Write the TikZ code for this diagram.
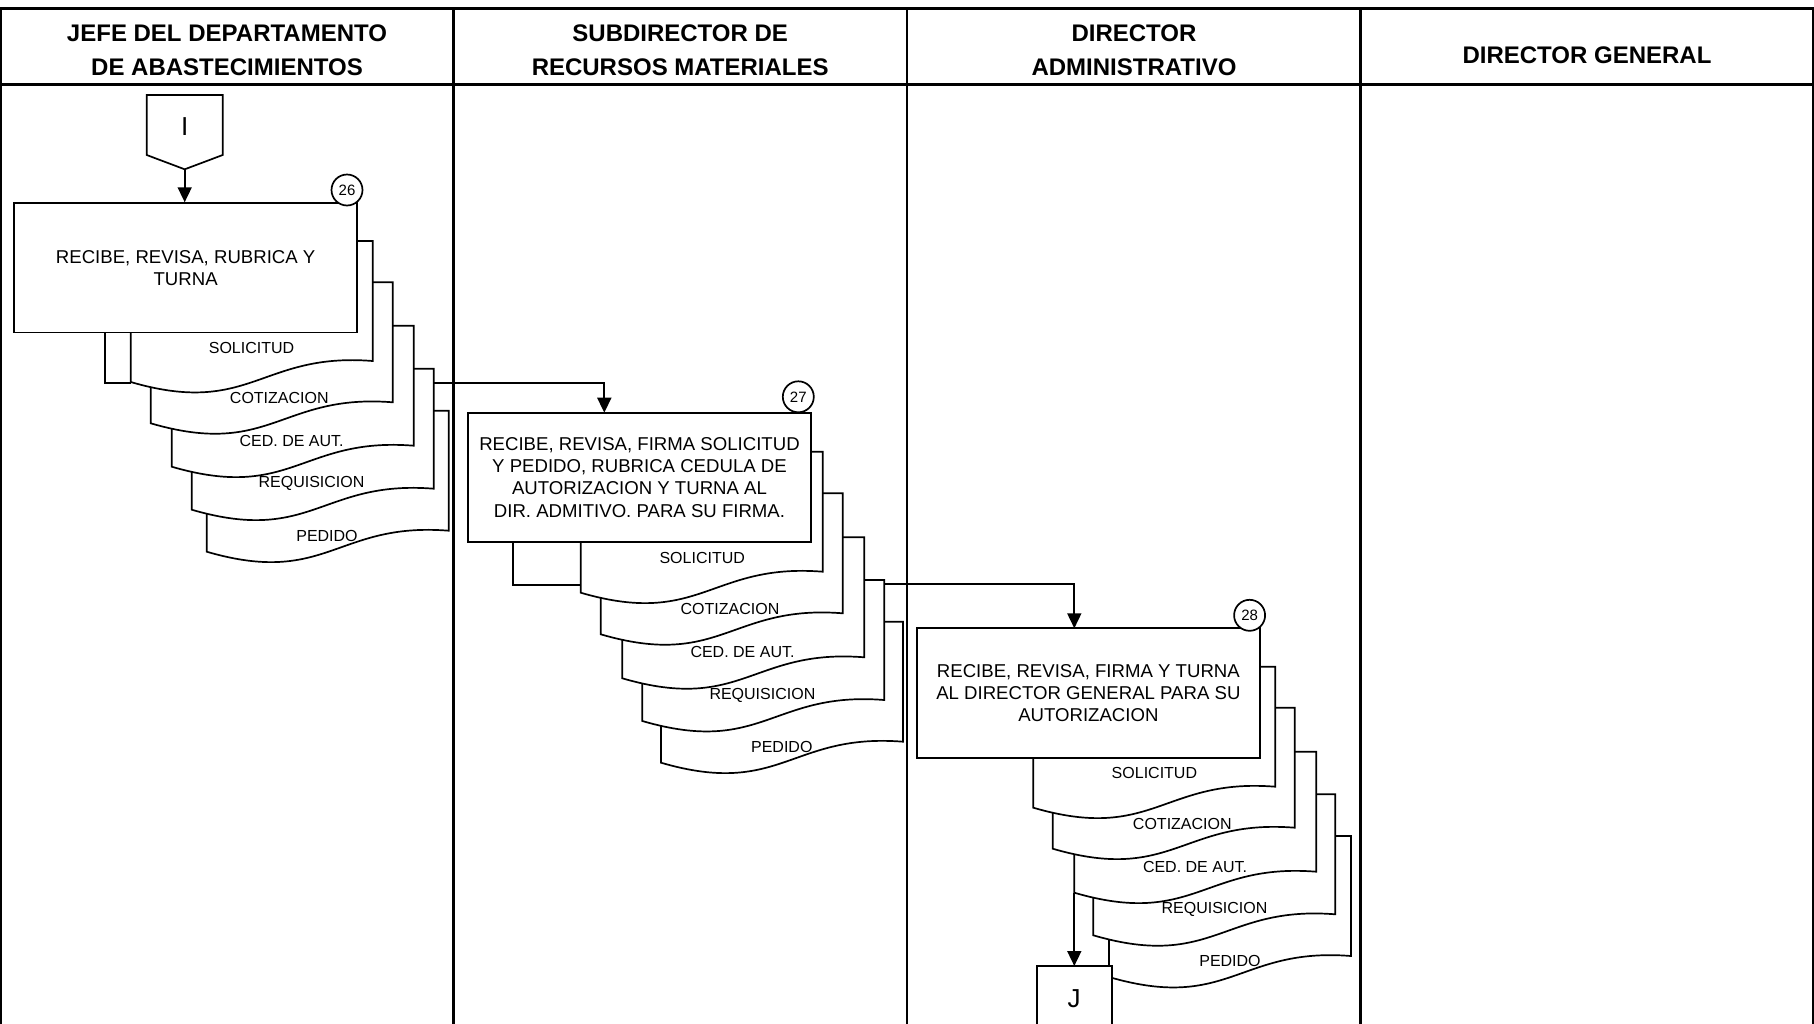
\documentclass[tikz,border=0pt]{standalone}
\usepackage{fontspec}
\setmainfont{Liberation Sans}
\usetikzlibrary{arrows.meta}
\tikzset{
  frameline/.style={line width=1.25pt},
  shp/.style={line width=0.85pt, draw=black, fill=white, line join=miter},
  procbox/.style={shp, rectangle, inner sep=0pt, minimum width=171.6pt, minimum height=64.7pt, align=center, font=\fontsize{9.3}{11.05}\selectfont},
  numcirc/.style={shp, circle, inner sep=0pt, minimum size=15.5pt, font=\fontsize{7.5}{9}\selectfont},
  hdr/.style={align=center, inner sep=0pt, font=\fontsize{12}{17.1}\selectfont\bfseries},
  doclbl/.style={inner sep=0pt, font=\fontsize{8}{9.6}\selectfont},
  conn/.style={line width=0.85pt, -{Triangle[width=7pt,length=7.5pt]}},
  letter/.style={inner sep=0pt, font=\fontsize{13}{15}\selectfont},
}
\newcommand{\DocShape}[2]{%
  \draw[shp] (#1,#2) -- (#1+242,#2) -- (#1+242,#2+120)
    .. controls (#1+130,#2+111) and (#1+120,#2+176) .. (#1,#2+141) -- cycle;}
\begin{document}
\begin{tikzpicture}[x=0.5pt,y=-0.5pt]
\useasboundingbox (0,0) rectangle (1814,1023);
\clip (0,0) rectangle (1814,1023);
% frame
\draw[frameline] (1,1040) -- (1,8.3) -- (1813,8.3) -- (1813,1040);
\draw[frameline] (1,84.3) -- (1813,84.3);
\draw[frameline] (453.5,8.3) -- (453.5,1040);
\draw[frameline] (907,8.3) -- (907,1040);
\draw[frameline] (1360.5,8.3) -- (1360.5,1040);
% headers
\node[hdr] (h1) at (227,50) {JEFE DEL DEPARTAMENTO\\DE ABASTECIMIENTOS};
\node[hdr] (h2) at (680.2,50) {SUBDIRECTOR DE\\RECURSOS MATERIALES};
\node[hdr] (h3) at (1134,50) {DIRECTOR\\ADMINISTRATIVO};
\node[hdr] (h4) at (1587,55) {DIRECTOR GENERAL};

% ---------- lane 1 ----------
\draw[shp] (146.7,95) -- (222.7,95) -- (222.7,155) -- (184.7,169.3) -- (146.7,155) -- cycle;
\node[letter] (I) at (184.7,127) {I};
\coordinate (ibot) at (184.7,169.3);
\draw[line width=0.85pt] (105,330) -- (105,383.3) -- (131,383.3);
\DocShape{206.7}{410.7}
\DocShape{191.7}{368.7}
\DocShape{171.7}{325.7}
\DocShape{150.7}{282.3}
\DocShape{130.7}{241}
\node[doclbl] (s1) at (251.5,347.7) {SOLICITUD};
\node[doclbl] (c1) at (279.3,398.2) {COTIZACION};
\node[doclbl] (a1) at (291.6,441.3) {CED. DE AUT.};
\node[doclbl] (r1) at (311.5,483.8) {REQUISICION};
\node[doclbl] (p1) at (327,535.8) {PEDIDO};
\node[procbox] (b26) at (185.65,267.8) {RECIBE, REVISA, RUBRICA Y\\TURNA};
\node[numcirc] (n26) at (347,190) {26};
\draw[conn] (ibot) -- (ibot |- b26.north);
\coordinate (o1) at (433.7,383.3);
\coordinate (t2) at (604.3,412.7);

% ---------- lane 2 ----------
\draw[line width=0.85pt] (513.3,540) -- (513.3,585) -- (581,585);
\DocShape{661}{621.7}
\DocShape{642.3}{580}
\DocShape{622.3}{537.3}
\DocShape{600.7}{493.3}
\DocShape{580.7}{451.7}
\node[doclbl] (s2) at (702.2,557.8) {SOLICITUD};
\node[doclbl] (c2) at (730,608.8) {COTIZACION};
\node[doclbl] (a2) at (742.5,652) {CED. DE AUT.};
\node[doclbl] (r2) at (762.4,695.6) {REQUISICION};
\node[doclbl] (p2) at (781.8,747) {PEDIDO};
\node[procbox] (b27) at (639.5,477.5) {RECIBE, REVISA, FIRMA SOLICITUD\\Y PEDIDO, RUBRICA CEDULA DE\\AUTORIZACION Y TURNA AL\\DIR. ADMITIVO. PARA SU FIRMA.};
\node[numcirc] (n27) at (798.3,396.8) {27};
\draw[conn] (o1) -| (t2);
\coordinate (o2) at (884.3,584.3);
\coordinate (t3) at (1074.3,628.3);

% ---------- lane 3 ----------
\DocShape{1109}{836}
\DocShape{1093.3}{794.3}
\DocShape{1074.3}{751.7}
\DocShape{1052.7}{707.7}
\DocShape{1033.3}{666.7}
\node[doclbl] (s3) at (1154.4,773) {SOLICITUD};
\node[doclbl] (c3) at (1182.3,824) {COTIZACION};
\node[doclbl] (a3) at (1195,867) {CED. DE AUT.};
\node[doclbl] (r3) at (1214.5,909.6) {REQUISICION};
\node[doclbl] (p3) at (1230,960.6) {PEDIDO};
\node[procbox] (b28) at (1088.35,693) {RECIBE, REVISA, FIRMA Y TURNA\\AL DIRECTOR GENERAL PARA SU\\AUTORIZACION};
\node[numcirc] (n28) at (1249.6,615.3) {28};
\draw[conn] (o2) -| (t3);
\draw[shp] (1036.7,1045) -- (1036.7,966) -- (1111.7,966) -- (1111.7,1045);
\node[letter] (J) at (1074.2,998.5) {J};
\coordinate (jtop) at (1074.3,966);
\coordinate (d3bot) at (1074.3,892.7);
\draw[conn] (d3bot) -- (jtop);
\end{tikzpicture}
\end{document}
